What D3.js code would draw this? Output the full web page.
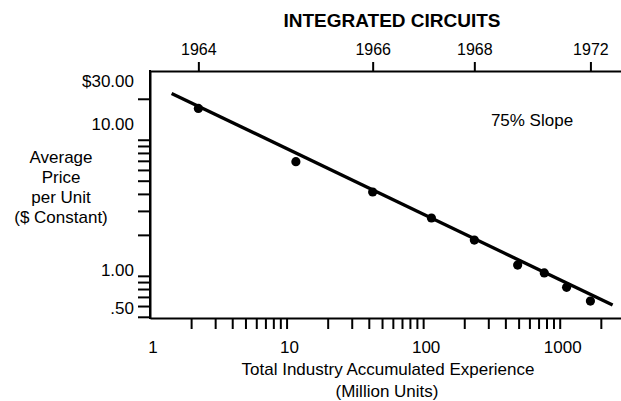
<!DOCTYPE html>
<html>
  <head>
    <meta charset="utf-8">
    <title>Integrated Circuits - Experience Curve</title>
    <script src="https://d3js.org/d3.v7.min.js"></script>
    <style>
      body { margin: 0; background: #fff; }
      text { font-family: "Liberation Sans", Arial, sans-serif; fill: #000; }
    </style>
  </head>
  <body>
    <svg id="chart"></svg>
    <script>
// data
var years = [1964, 1965, 1966, 1967, 1968, 1969, 1970, 1971, 1972];
var experience = [2.26, 11.7, 42.7, 115, 237, 492, 771, 1123, 1678]; // million units, cumulative
var price = [17.0, 6.90, 4.13, 2.66, 1.83, 1.20, 1.05, 0.824, 0.653]; // $ constant
var yearTicks = [1964, 1966, 1968, 1972];

// 75% slope line end points
var fitExperience = [1.44, 2440];
var fitPrice = [21.9, 0.61];

var xTicks = [2, 3, 4, 5, 6, 7, 8, 9, 10, 20, 30, 40, 50, 60, 70, 80, 90,
  100, 200, 300, 400, 500, 600, 700, 800, 900, 1000, 2000];
var xLabels = [1, 10, 100, 1000];
var yTicks = [20, 10, 9, 8, 7, 6, 5, 4, 3, 2, 1, 0.9, 0.8, 0.7, 0.6, 0.5];
var yLabels = [30, 10, 1, 0.5];
var yLabelText = ["$30.00", "10.00", "1.00", ".50"];

var width = 621, height = 401;
var plotLeft = 150, plotTop = 71, plotBottom = 318, plotRight = 621;

var svg = d3.select("#chart")
  .attr("width", width)
  .attr("height", height);

var xScale = d3.scaleLog()
  .domain([1, 2810])
  .range([plotLeft, plotRight]);

var yScale = d3.scaleLog()
  .domain([0.49, 32])
  .range([plotBottom, plotTop]);

// bottom axis, ticks only
svg.append("g")
  .attr("transform", "translate(0," + plotBottom + ")")
  .call(d3.axisBottom(xScale).tickValues(xTicks).tickSize(11).tickSizeOuter(0).tickFormat(""));

svg.selectAll(".x-label")
  .data(xLabels)
  .enter().append("text")
  .attr("class", "x-label")
  .attr("x", function(d) { return xScale(d) + 3; })
  .attr("y", 353)
  .attr("text-anchor", "middle")
  .style("font-size", "17px")
  .text(function(d) { return d; });

// left axis
svg.append("g")
  .attr("transform", "translate(" + plotLeft + ",0)")
  .call(d3.axisLeft(yScale).tickValues(yTicks).tickSize(12).tickSizeOuter(0).tickFormat(""));

// labels sit a bit off their ticks in the original
var yNudge = { 30: 6, 10: -16, 1: -6, 0.5: -9 };
svg.selectAll(".y-label")
  .data(yLabels)
  .enter().append("text")
  .attr("class", "y-label")
  .attr("x", 134)
  .attr("y", function(d) { return yScale(d) + yNudge[d]; })
  .attr("dy", "0.36em")
  .attr("text-anchor", "end")
  .style("font-size", "17px")
  .text(function(d, i) { return yLabelText[i]; });

// top axis: year marks at that year's accumulated experience
var topAxis = svg.append("g")
  .attr("transform", "translate(0," + plotTop + ")")
  .call(d3.axisTop(xScale)
    .tickValues(yearTicks.map(function(y) { return experience[years.indexOf(y)]; }))
    .tickSize(9).tickSizeOuter(0).tickPadding(7)
    .tickFormat(function(d) { return years[experience.indexOf(d)]; }));

topAxis.selectAll("text")
  .style("font-size", "16px")
  .style("font-family", "'Liberation Sans', Arial, sans-serif")
  .attr("fill", "#000");

svg.selectAll(".domain, .tick line")
  .attr("stroke", "#000")
  .attr("stroke-width", 2);

// frame line on the left
svg.append("line")
  .attr("x1", plotLeft).attr("x2", plotLeft)
  .attr("y1", plotTop - 1).attr("y2", plotBottom + 1)
  .attr("stroke", "#000")
  .attr("stroke-width", 2);

// fitted line
svg.append("line")
  .attr("x1", xScale(fitExperience[0]))
  .attr("y1", yScale(fitPrice[0]))
  .attr("x2", xScale(fitExperience[1]))
  .attr("y2", yScale(fitPrice[1]))
  .attr("stroke", "#000")
  .attr("stroke-width", 3.3);

// points
svg.selectAll(".dot")
  .data(experience)
  .enter().append("circle")
  .attr("class", "dot")
  .attr("cx", function(d) { return xScale(d); })
  .attr("cy", function(d, i) { return yScale(price[i]); })
  .attr("r", 4.6)
  .attr("fill", "#000");

// titles
svg.append("text")
  .attr("x", 392)
  .attr("y", 27)
  .attr("text-anchor", "middle")
  .style("font-size", "19px")
  .style("font-weight", "bold")
  .text("INTEGRATED CIRCUITS");

svg.append("text")
  .attr("x", 532)
  .attr("y", 126)
  .attr("text-anchor", "middle")
  .style("font-size", "17px")
  .text("75% Slope");

var xTitle = svg.append("text")
  .attr("text-anchor", "middle")
  .style("font-size", "17px");
xTitle.append("tspan").attr("x", 388).attr("y", 375).text("Total Industry Accumulated Experience");
xTitle.append("tspan").attr("x", 387).attr("y", 397).text("(Million Units)");

var yTitle = svg.append("text")
  .attr("text-anchor", "middle")
  .style("font-size", "17px");
["Average", "Price", "per Unit", "($ Constant)"].forEach(function(t, i) {
  yTitle.append("tspan").attr("x", 61).attr("y", 163 + i * 20).text(t);
});
    </script>
  </body>
</html>
